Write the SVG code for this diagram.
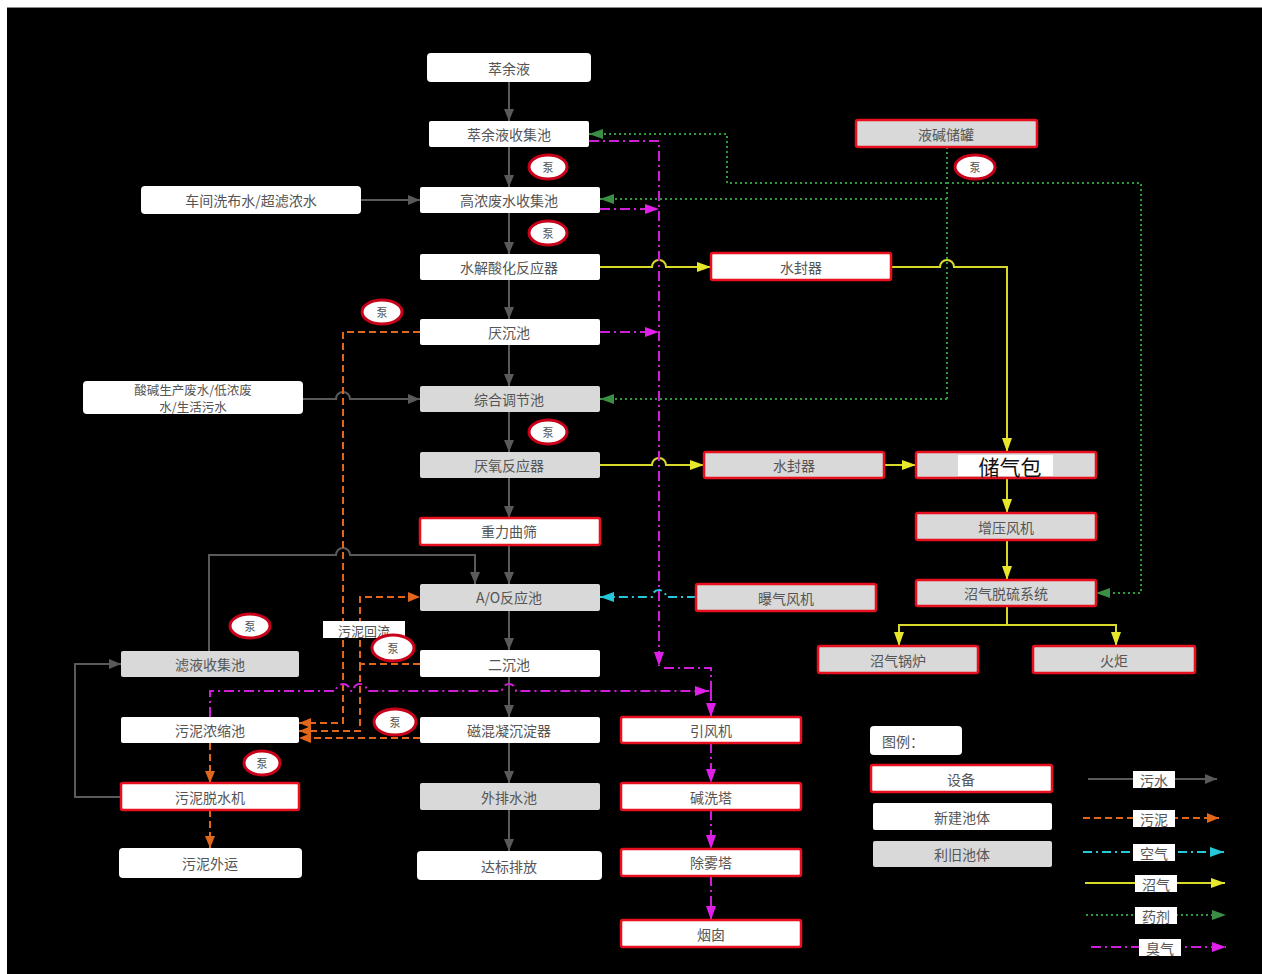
<svg xmlns="http://www.w3.org/2000/svg" width="1262" height="974" viewBox="0 0 1262 974">
  <defs>
    <style>
      .box { stroke: none; }
      .w { fill: #ffffff; }
      .g { fill: #d9d9d9; }
      .dev { stroke: #e8101e; stroke-width: 2.5; }
      .t { font-family: "Noto Sans CJK SC", "Noto Sans", sans-serif; font-size: 14px; fill: #555555; text-anchor: middle; dominant-baseline: central; }
      .t2 { font-size: 12.5px; }
      .pump ellipse { fill: #ffffff; stroke: #c8001a; stroke-width: 3; }
      .pump text { font-family: "Noto Sans CJK SC", sans-serif; font-size: 11px; fill: #555; text-anchor: middle; dominant-baseline: central; }
      .c { fill: none; stroke-width: 2; }
      .sw { stroke: #5a5a5a; marker-end: url(#mGray); }
      .sl { stroke: #e2661c; stroke-dasharray: 7 4; marker-end: url(#mOrange); }
      .air { stroke: #25c8d8; stroke-dasharray: 9 4 2 4; marker-end: url(#mCyan); }
      .gas { stroke: #d9d92a; marker-end: url(#mYellow); }
      .gas0 { stroke: #d9d92a; }
      .med { stroke: #2f9a3c; stroke-dasharray: 2 3; marker-end: url(#mGreen); }
      .med0 { stroke: #2f9a3c; stroke-dasharray: 2 3; }
      .odor { stroke: #d01ed8; stroke-dasharray: 10 4 2 4; marker-end: url(#mMag); }
      .odor0 { stroke: #d01ed8; stroke-dasharray: 10 4 2 4; }
      .lg { fill: #ffffff; }
    </style>
    <marker id="mGray" markerUnits="userSpaceOnUse" markerWidth="12" markerHeight="10" refX="12" refY="5" orient="auto"><path d="M0,0 L12,5 L0,10 z" fill="#5a5a5a"/></marker>
    <marker id="mOrange" markerUnits="userSpaceOnUse" markerWidth="12" markerHeight="10" refX="12" refY="5" orient="auto"><path d="M0,0 L12,5 L0,10 z" fill="#e2661c"/></marker>
    <marker id="mCyan" markerUnits="userSpaceOnUse" markerWidth="14" markerHeight="10" refX="14" refY="5" orient="auto"><path d="M0,0 L14,5 L0,10 z" fill="#25c8d8"/></marker>
    <marker id="mYellow" markerUnits="userSpaceOnUse" markerWidth="14" markerHeight="10" refX="14" refY="5" orient="auto"><path d="M0,0 L14,5 L0,10 z" fill="#e6e62a"/></marker>
    <marker id="mGreen" markerUnits="userSpaceOnUse" markerWidth="14" markerHeight="10" refX="14" refY="5" orient="auto"><path d="M0,0 L14,5 L0,10 z" fill="#3a8f45"/></marker>
    <marker id="mMag" markerUnits="userSpaceOnUse" markerWidth="14" markerHeight="10" refX="14" refY="5" orient="auto"><path d="M0,0 L14,5 L0,10 z" fill="#e020e8"/></marker>
  </defs>

  <!-- canvas -->
  <rect x="0" y="0" width="1262" height="974" fill="#ffffff"/>
  <rect x="7" y="7" width="1255" height="967" fill="#000000"/>
  <line x1="7" y1="7.5" x2="1262" y2="7.5" stroke="#8a8a8a" stroke-width="1"/>

  <!-- connectors -->
  <g id="connectors">
    <!-- sewage (gray) -->
    <path class="c sw" d="M509 82 V121"/>
    <path class="c sw" d="M509 147 V187"/>
    <path class="c sw" d="M509 213 V254"/>
    <path class="c sw" d="M509 280 V319"/>
    <path class="c sw" d="M509 345 V386"/>
    <path class="c sw" d="M509 412 V452"/>
    <path class="c sw" d="M509 478 V518"/>
    <path class="c sw" d="M509 545 V584"/>
    <path class="c sw" d="M509 611 V650"/>
    <path class="c sw" d="M509 677 V717"/>
    <path class="c sw" d="M509 743 V783"/>
    <path class="c sw" d="M509 810 V851"/>
    <path class="c sw" d="M361 200 H420"/>
    <path class="c sw" d="M303 399 H336 a7 7 0 0 1 14 0 H420"/>
    <path class="c sw" d="M209 651 V555 H336 a7 7 0 0 1 14 0 H475 V584"/>
    <path class="c sw" d="M121 797 H75 V664 H121"/>

    <!-- sludge (orange) -->
    <path class="c sl" d="M420 332 H343 V723 H299"/>
    <path class="c sl" d="M420 664 H360 V597 H420"/>
    <path class="c sl" d="M360 664 V731 H299"/>
    <path class="c sl" d="M420 738 H299"/>
    <path class="c sl" d="M210 743 V783"/>
    <path class="c sl" d="M210 810 V848"/>

    <!-- air (cyan) -->
    <path class="c air" d="M696 597 H666 a7 7 0 0 0 -14 0 H600"/>

    <!-- biogas (yellow) -->
    <path class="c gas" d="M600 267 H652 a7 7 0 0 1 14 0 H711"/>
    <path class="c gas" d="M891 267 H940 a7 7 0 0 1 14 0 H1007 V452"/>
    <path class="c gas" d="M600 465 H652 a7 7 0 0 1 14 0 H704"/>
    <path class="c gas" d="M884 465 H916"/>
    <path class="c gas" d="M1007 478 V513"/>
    <path class="c gas" d="M1007 540 V580"/>
    <path class="c gas0" d="M1007 606 V625 M899 625 H1116"/>
    <path class="c gas" d="M899 624 V646"/>
    <path class="c gas" d="M1116 624 V646"/>

    <!-- chemicals (green) -->
    <path class="c med0" d="M947 147 V399"/>
    <path class="c med" d="M947 183 H727 V134 H589"/>
    <path class="c med" d="M947 183 H1141 V593 H1096"/>
    <path class="c med" d="M947 199 H600"/>
    <path class="c med" d="M947 399 H600"/>

    <!-- odour gas (magenta) -->
    <path class="c odor" d="M589 141 H659 V666"/>
    <path class="c odor" d="M600 209 H659"/>
    <path class="c odor" d="M600 332 H659"/>
    <path class="c odor0" d="M664 668 H711 V691"/>
    <path class="c odor" d="M210 717 V691 H336 a7 7 0 0 1 14 0 H353 a7 7 0 0 1 14 0 H502 a7 7 0 0 1 14 0 H709"/>
    <path class="c odor" d="M711 691 V717"/>
    <path class="c odor" d="M711 743 V783"/>
    <path class="c odor" d="M711 810 V849"/>
    <path class="c odor" d="M711 876 V920"/>
  </g>

  <!-- central process column -->
  <g id="n-cuiyuye"><rect class="box w" x="427" y="53" width="164" height="29" rx="4"/><text class="t" x="509" y="68">萃余液</text></g>
  <g id="n-cuiyuye-pool"><rect class="box w" x="429" y="121" width="160" height="26" rx="2"/><text class="t" x="509" y="134">萃余液收集池</text></g>
  <g id="n-gaonong"><rect class="box w" x="420" y="187" width="180" height="26" rx="2"/><text class="t" x="509" y="200">高浓废水收集池</text></g>
  <g id="n-shuijie"><rect class="box w" x="420" y="254" width="180" height="26" rx="2"/><text class="t" x="509" y="267">水解酸化反应器</text></g>
  <g id="n-yanchen"><rect class="box w" x="420" y="319" width="180" height="26" rx="2"/><text class="t" x="509" y="332">厌沉池</text></g>
  <g id="n-tiaojie"><rect class="box g" x="420" y="386" width="180" height="26" rx="2"/><text class="t" x="509" y="399">综合调节池</text></g>
  <g id="n-yanyang"><rect class="box g" x="420" y="452" width="180" height="26" rx="2"/><text class="t" x="509" y="465">厌氧反应器</text></g>
  <g id="n-qushai"><rect class="box w dev" x="420" y="518" width="180" height="27" rx="2"/><text class="t" x="509" y="531">重力曲筛</text></g>
  <g id="n-ao"><rect class="box g" x="420" y="584" width="180" height="27" rx="2"/><text class="t" x="509" y="597">A/O反应池</text></g>
  <g id="n-erchen"><rect class="box w" x="420" y="650" width="180" height="27" rx="2"/><text class="t" x="509" y="664">二沉池</text></g>
  <g id="n-cihunning"><rect class="box w" x="420" y="717" width="180" height="26" rx="2"/><text class="t" x="509" y="730">磁混凝沉淀器</text></g>
  <g id="n-waipai"><rect class="box g" x="420" y="783" width="180" height="27" rx="2"/><text class="t" x="509" y="797">外排水池</text></g>
  <g id="n-dabiao"><rect class="box w" x="417" y="851" width="185" height="29" rx="4"/><text class="t" x="509" y="866">达标排放</text></g>

  <!-- inflows -->
  <g id="n-xibushui"><rect class="box w" x="141" y="186" width="220" height="28" rx="4"/><text class="t" x="251" y="200">车间洗布水/超滤浓水</text></g>
  <g id="n-suanjian"><rect class="box w" x="83" y="381" width="220" height="33" rx="4"/><text class="t t2" x="193" y="389">酸碱生产废水/低浓废</text><text class="t t2" x="193" y="406">水/生活污水</text></g>

  <!-- sludge line -->
  <g id="n-lvye"><rect class="box g" x="121" y="651" width="178" height="26" rx="2"/><text class="t" x="210" y="664">滤液收集池</text></g>
  <g id="n-nongsuo"><rect class="box w" x="121" y="717" width="178" height="26" rx="2"/><text class="t" x="210" y="730">污泥浓缩池</text></g>
  <g id="n-tuoshui"><rect class="box w dev" x="121" y="783" width="178" height="27" rx="2"/><text class="t" x="210" y="797">污泥脱水机</text></g>
  <g id="n-waiyun"><rect class="box w" x="119" y="848" width="183" height="30" rx="4"/><text class="t" x="210" y="863">污泥外运</text></g>
  <g id="lbl-huiliu"><rect class="box w" x="323" y="621" width="82" height="17"/><text class="t" x="364" y="630" style="font-size:13px">污泥回流</text></g>

  <!-- biogas line -->
  <g id="n-shuifeng1"><rect class="box w dev" x="711" y="253" width="180" height="27" rx="2"/><text class="t" x="801" y="267">水封器</text></g>
  <g id="n-yejian"><rect class="box g dev" x="856" y="120" width="181" height="27" rx="2"/><text class="t" x="946" y="134">液碱储罐</text></g>
  <g id="n-shuifeng2"><rect class="box g dev" x="704" y="452" width="180" height="26" rx="2"/><text class="t" x="794" y="465">水封器</text></g>
  <g id="n-chuqibao"><rect class="box g dev" x="916" y="452" width="180" height="26" rx="2"/><rect x="958" y="455" width="95" height="21" fill="#ffffff"/><text class="t" x="1010" y="466" style="font-size:21px;fill:#111">储气包</text></g>
  <g id="n-zengya"><rect class="box g dev" x="916" y="513" width="180" height="27" rx="2"/><text class="t" x="1006" y="527">增压风机</text></g>
  <g id="n-tuoliu"><rect class="box g dev" x="916" y="580" width="180" height="26" rx="2"/><text class="t" x="1006" y="593">沼气脱硫系统</text></g>
  <g id="n-guolu"><rect class="box g dev" x="818" y="646" width="160" height="27" rx="2"/><text class="t" x="898" y="660">沼气锅炉</text></g>
  <g id="n-huoju"><rect class="box g dev" x="1033" y="646" width="162" height="27" rx="2"/><text class="t" x="1114" y="660">火炬</text></g>
  <g id="n-baoqi"><rect class="box g dev" x="696" y="584" width="180" height="27" rx="2"/><text class="t" x="786" y="598">曝气风机</text></g>

  <!-- odour treatment -->
  <g id="n-yinfeng"><rect class="box w dev" x="621" y="717" width="180" height="26" rx="2"/><text class="t" x="711" y="730">引风机</text></g>
  <g id="n-jianxi"><rect class="box w dev" x="621" y="783" width="180" height="27" rx="2"/><text class="t" x="711" y="797">碱洗塔</text></g>
  <g id="n-chuwu"><rect class="box w dev" x="621" y="849" width="180" height="27" rx="2"/><text class="t" x="711" y="862">除雾塔</text></g>
  <g id="n-yancong"><rect class="box w dev" x="621" y="920" width="180" height="27" rx="2"/><text class="t" x="711" y="934">烟囱</text></g>

  <!-- pumps -->
  <g id="pumps" class="pump">
    <g id="p1"><ellipse cx="548" cy="167" rx="19" ry="12"/><text x="548" y="167">泵</text></g>
    <g id="p2"><ellipse cx="548" cy="233" rx="19" ry="12"/><text x="548" y="233">泵</text></g>
    <g id="p3"><ellipse cx="382" cy="312" rx="20" ry="12"/><text x="382" y="312">泵</text></g>
    <g id="p4"><ellipse cx="548" cy="432" rx="19" ry="12"/><text x="548" y="432">泵</text></g>
    <g id="p5"><ellipse cx="975" cy="167" rx="20" ry="12"/><text x="975" y="167">泵</text></g>
    <g id="p6"><ellipse cx="250" cy="626" rx="20" ry="12"/><text x="250" y="626">泵</text></g>
    <g id="p7"><ellipse cx="393" cy="648" rx="21" ry="13"/><text x="393" y="648">泵</text></g>
    <g id="p8"><ellipse cx="395" cy="722" rx="21" ry="13"/><text x="395" y="722">泵</text></g>
    <g id="p9"><ellipse cx="262" cy="763" rx="18" ry="12"/><text x="262" y="763">泵</text></g>
  </g>

  <!-- legend -->
  <g id="legend">
    <g id="lg-title"><rect class="box w" x="870" y="726" width="92" height="29" rx="4"/><text class="t" x="903" y="741">图例：</text></g>
    <g id="lg-dev"><rect class="box w dev" x="871" y="765" width="181" height="27" rx="2"/><text class="t" x="961" y="779">设备</text></g>
    <g id="lg-new"><rect class="box w" x="873" y="803" width="179" height="27" rx="2"/><text class="t" x="962" y="817">新建池体</text></g>
    <g id="lg-old"><rect class="box g" x="873" y="841" width="179" height="26" rx="2"/><text class="t" x="962" y="854">利旧池体</text></g>

    <path class="c sw" d="M1088 779 H1217"/>
    <path class="c sl" d="M1083 818 H1219"/>
    <path class="c air" d="M1083 852 H1224"/>
    <path class="c gas" d="M1085 883 H1225"/>
    <path class="c med" d="M1086 915 H1226"/>
    <path class="c odor" d="M1091 947 H1226"/>

    <g id="lg-l1"><rect class="lg" x="1133" y="771" width="42" height="17"/><text class="t" x="1154" y="780">污水</text></g>
    <g id="lg-l2"><rect class="lg" x="1133" y="810" width="42" height="17"/><text class="t" x="1154" y="819">污泥</text></g>
    <g id="lg-l3"><rect class="lg" x="1133" y="844" width="42" height="17"/><text class="t" x="1154" y="853">空气</text></g>
    <g id="lg-l4"><rect class="lg" x="1135" y="875" width="42" height="17"/><text class="t" x="1156" y="884">沼气</text></g>
    <g id="lg-l5"><rect class="lg" x="1135" y="907" width="42" height="17"/><text class="t" x="1156" y="916">药剂</text></g>
    <g id="lg-l6"><rect class="lg" x="1139" y="939" width="42" height="17"/><text class="t" x="1160" y="948">臭气</text></g>
  </g>
</svg>
